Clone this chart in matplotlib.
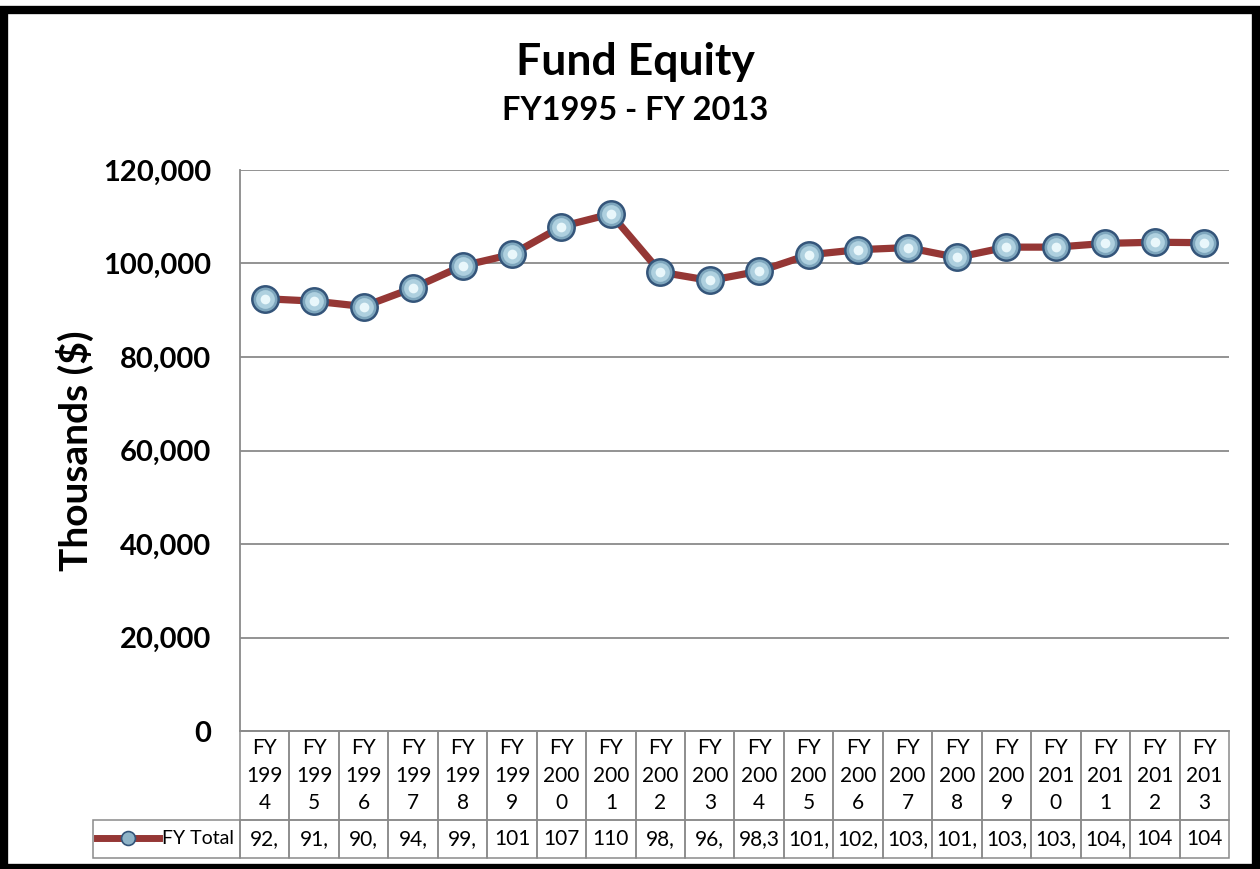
import matplotlib
matplotlib.use('Agg')
import matplotlib.pyplot as plt
from matplotlib.lines import Line2D
from matplotlib.patches import Rectangle
from matplotlib.ticker import FuncFormatter

plt.rcParams['font.family'] = ['Lato', 'DejaVu Sans']

# data (thousands of $)
years = list(range(1994, 2014))
fund_equity = [92470, 91950, 90800, 94750, 99500, 101950, 107900, 110600, 98160, 96370,
               98350, 101860, 102950, 103400, 101300, 103500, 103500, 104300, 104550, 104450]
# values as they appear (clipped) in the data table
table_text = ['92,', '91,', '90,', '94,', '99,', '101', '107', '110', '98,', '96,',
              '98,3', '101,', '102,', '103,', '101,', '103,', '103,', '104,', '104', '104']
series_name = 'FY Total'

W, H = 1260, 869
line_red = '#953735'
grid_gray = '#8a8a8a'

fig = plt.figure(figsize=(W / 100, H / 100), dpi=100)
# plot area in pixels: x 240..1229, y 170..731
ax_w, ax_h = 989, 561
ax = fig.add_axes([240 / W, 1 - 731 / H, ax_w / W, ax_h / H])

x = list(range(len(years)))
ax.plot(x, fund_equity, color=line_red, lw=5.2, solid_capstyle='round', zorder=3)
# layered markers for a glassy sphere look
ax.plot(x, fund_equity, 'o', ms=19, mfc='#7ea6bd', mec='#34557a', mew=1.8, zorder=4)
ax.plot(x, fund_equity, 'o', ms=13.5, mfc='#aed0df', mec='none', zorder=5)
ax.plot(x, fund_equity, 'o', ms=7, mfc='#e9f7fb', mec='none', zorder=6)

ax.set_xlim(-0.5, len(years) - 0.5)
ax.set_ylim(0, 120000)
ax.set_yticks(range(0, 120001, 20000))
ax.yaxis.set_major_formatter(FuncFormatter(lambda v, p: f'{int(v):,}'))
ax.set_xticks([])
ax.tick_params(axis='y', length=0, pad=21, labelsize=21)
for lab in ax.get_yticklabels():
    lab.set_fontweight('bold')
ax.grid(axis='y', color=grid_gray, lw=1.3)
ax.set_axisbelow(True)
for s in ['top', 'right']:
    ax.spines[s].set_visible(False)
ax.spines['left'].set_color(grid_gray)
ax.spines['bottom'].set_color(grid_gray)
ax.spines['left'].set_linewidth(1.3)
ax.spines['bottom'].set_linewidth(1.3)

ax.set_ylabel('Thousands ($)', fontsize=28, fontweight='bold')
ax.yaxis.set_label_coords((94 - 240) / ax_w, 0.5)

# data table under the plot (sizes in axes fractions so the bbox scale is 1)
head_h, row_h, label_w = 89 / ax_h, 38 / ax_h, 147 / ax_w
col_w = 1 / len(years)
headers = [f'FY\n{str(yr)[:3]}\n{str(yr)[3:]}' for yr in years]
tbl = ax.table(cellText=[table_text], colLabels=headers, colWidths=[col_w] * len(years),
               cellLoc='center', colLoc='center',
               bbox=[0, -(head_h + row_h), 1, head_h + row_h])
tbl.add_cell(1, -1, label_w, row_h, text='', loc='right')
tbl.auto_set_font_size(False)
for i in range(len(years)):
    tbl[0, i].set_height(head_h)
    tbl[1, i].set_height(row_h)
    tbl[0, i].get_text().set_linespacing(1.45)
for cell in tbl.get_celld().values():
    cell.set_edgecolor(grid_gray)
    cell.set_linewidth(1.1)
    cell.set_facecolor('none')
    cell.get_text().set_fontfamily(['Lato', 'DejaVu Sans'])
    cell.get_text().set_fontsize(15)

# legend key inside the row-label cell
key = Line2D([], [], color=line_red, lw=5, marker='o', ms=10, mfc='#8fb4c8', mec='#34557a', mew=1.2)
ax.legend([key], [series_name], loc='center left',
          bbox_to_anchor=((97 - 240) / ax_w, -(839 - 731) / ax_h), frameon=False,
          fontsize=14, handlelength=3.2, handletextpad=0.15, borderpad=0, borderaxespad=0)

fig.text(0.504, 1 - 62 / H, 'Fund Equity', ha='center', va='center', fontsize=32, fontweight='bold')
fig.text(0.504, 1 - 110 / H, 'FY1995 - FY 2013', ha='center', va='center', fontsize=23.5, fontweight='bold')

# thick black frame around the chart
fig.add_artist(Rectangle((3.5 / W, 1 / H), (1256 - 3.5) / W, 858.5 / H,
                         transform=fig.transFigure, fill=False, edgecolor='black', lw=6))
fig.savefig('out.png', dpi=100)
